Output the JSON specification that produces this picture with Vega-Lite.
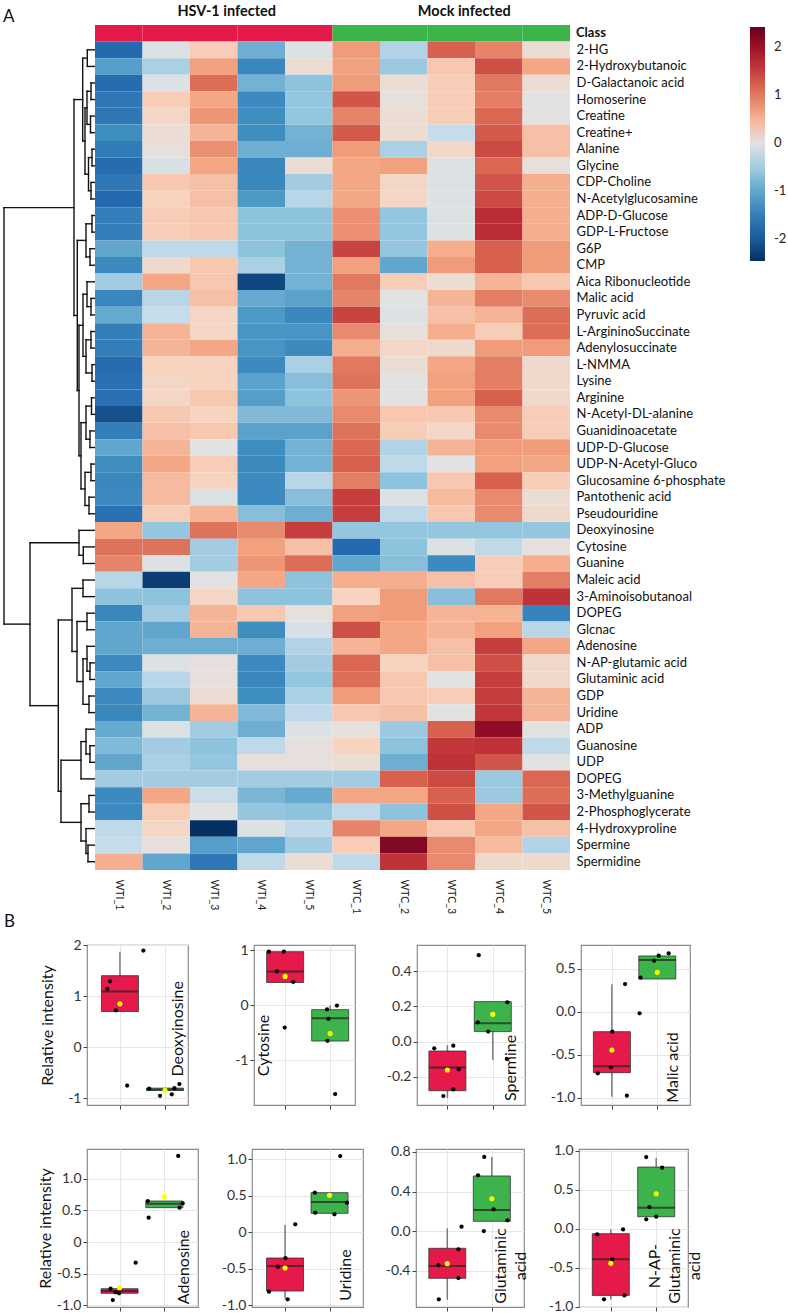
{
"$schema":"https://vega.github.io/schema/vega-lite/v6.json",
"padding":{"left":3,"top":3,"right":3,"bottom":0},
"background":"white",
"config":{"font":"Lato","view":{"stroke":null}},
"datasets":{
"cls":[{"r":"Class","c":"WTI_1","k":"HSV"},{"r":"Class","c":"WTI_2","k":"HSV"},{"r":"Class","c":"WTI_3","k":"HSV"},{"r":"Class","c":"WTI_4","k":"HSV"},{"r":"Class","c":"WTI_5","k":"HSV"},{"r":"Class","c":"WTC_1","k":"Mock"},{"r":"Class","c":"WTC_2","k":"Mock"},{"r":"Class","c":"WTC_3","k":"Mock"},{"r":"Class","c":"WTC_4","k":"Mock"},{"r":"Class","c":"WTC_5","k":"Mock"}],
"heat":[
{"r":"2-HG","c":"WTI_1","v":-1.8},{"r":"2-HG","c":"WTI_2","v":-0.05},{"r":"2-HG","c":"WTI_3","v":0.3},{"r":"2-HG","c":"WTI_4","v":-0.9},{"r":"2-HG","c":"WTI_5","v":-0.05},{"r":"2-HG","c":"WTC_1","v":0.7},{"r":"2-HG","c":"WTC_2","v":-0.4},{"r":"2-HG","c":"WTC_3","v":1.2},{"r":"2-HG","c":"WTC_4","v":0.9},{"r":"2-HG","c":"WTC_5","v":0.1},
{"r":"2-Hydroxybutanoic","c":"WTI_1","v":-1.1},{"r":"2-Hydroxybutanoic","c":"WTI_2","v":-0.45},{"r":"2-Hydroxybutanoic","c":"WTI_3","v":0.65},{"r":"2-Hydroxybutanoic","c":"WTI_4","v":-1.4},{"r":"2-Hydroxybutanoic","c":"WTI_5","v":0.1},{"r":"2-Hydroxybutanoic","c":"WTC_1","v":0.65},{"r":"2-Hydroxybutanoic","c":"WTC_2","v":-0.55},{"r":"2-Hydroxybutanoic","c":"WTC_3","v":0.35},{"r":"2-Hydroxybutanoic","c":"WTC_4","v":1.35},{"r":"2-Hydroxybutanoic","c":"WTC_5","v":0.6},
{"r":"D-Galactanoic acid","c":"WTI_1","v":-1.75},{"r":"D-Galactanoic acid","c":"WTI_2","v":-0.05},{"r":"D-Galactanoic acid","c":"WTI_3","v":1.1},{"r":"D-Galactanoic acid","c":"WTI_4","v":-0.85},{"r":"D-Galactanoic acid","c":"WTI_5","v":-0.65},{"r":"D-Galactanoic acid","c":"WTC_1","v":0.7},{"r":"D-Galactanoic acid","c":"WTC_2","v":0.1},{"r":"D-Galactanoic acid","c":"WTC_3","v":0.3},{"r":"D-Galactanoic acid","c":"WTC_4","v":1.0},{"r":"D-Galactanoic acid","c":"WTC_5","v":0.1},
{"r":"Homoserine","c":"WTI_1","v":-1.6},{"r":"Homoserine","c":"WTI_2","v":0.3},{"r":"Homoserine","c":"WTI_3","v":0.6},{"r":"Homoserine","c":"WTI_4","v":-1.35},{"r":"Homoserine","c":"WTI_5","v":-0.6},{"r":"Homoserine","c":"WTC_1","v":1.3},{"r":"Homoserine","c":"WTC_2","v":0.05},{"r":"Homoserine","c":"WTC_3","v":0.3},{"r":"Homoserine","c":"WTC_4","v":0.95},{"r":"Homoserine","c":"WTC_5","v":0.0},
{"r":"Creatine","c":"WTI_1","v":-1.6},{"r":"Creatine","c":"WTI_2","v":0.2},{"r":"Creatine","c":"WTI_3","v":0.75},{"r":"Creatine","c":"WTI_4","v":-1.3},{"r":"Creatine","c":"WTI_5","v":-0.6},{"r":"Creatine","c":"WTC_1","v":0.9},{"r":"Creatine","c":"WTC_2","v":0.1},{"r":"Creatine","c":"WTC_3","v":0.3},{"r":"Creatine","c":"WTC_4","v":1.15},{"r":"Creatine","c":"WTC_5","v":0.0},
{"r":"Creatine+","c":"WTI_1","v":-1.3},{"r":"Creatine+","c":"WTI_2","v":0.1},{"r":"Creatine+","c":"WTI_3","v":0.5},{"r":"Creatine+","c":"WTI_4","v":-1.3},{"r":"Creatine+","c":"WTI_5","v":-0.85},{"r":"Creatine+","c":"WTC_1","v":1.25},{"r":"Creatine+","c":"WTC_2","v":0.1},{"r":"Creatine+","c":"WTC_3","v":-0.25},{"r":"Creatine+","c":"WTC_4","v":1.25},{"r":"Creatine+","c":"WTC_5","v":0.4},
{"r":"Alanine","c":"WTI_1","v":-1.55},{"r":"Alanine","c":"WTI_2","v":0.05},{"r":"Alanine","c":"WTI_3","v":0.8},{"r":"Alanine","c":"WTI_4","v":-0.9},{"r":"Alanine","c":"WTI_5","v":-0.9},{"r":"Alanine","c":"WTC_1","v":0.7},{"r":"Alanine","c":"WTC_2","v":-0.45},{"r":"Alanine","c":"WTC_3","v":0.2},{"r":"Alanine","c":"WTC_4","v":1.4},{"r":"Alanine","c":"WTC_5","v":0.4},
{"r":"Glycine","c":"WTI_1","v":-1.75},{"r":"Glycine","c":"WTI_2","v":-0.1},{"r":"Glycine","c":"WTI_3","v":0.6},{"r":"Glycine","c":"WTI_4","v":-1.4},{"r":"Glycine","c":"WTI_5","v":0.1},{"r":"Glycine","c":"WTC_1","v":0.6},{"r":"Glycine","c":"WTC_2","v":0.65},{"r":"Glycine","c":"WTC_3","v":-0.05},{"r":"Glycine","c":"WTC_4","v":1.15},{"r":"Glycine","c":"WTC_5","v":0.05},
{"r":"CDP-Choline","c":"WTI_1","v":-1.6},{"r":"CDP-Choline","c":"WTI_2","v":0.35},{"r":"CDP-Choline","c":"WTI_3","v":0.4},{"r":"CDP-Choline","c":"WTI_4","v":-1.4},{"r":"CDP-Choline","c":"WTI_5","v":-0.5},{"r":"CDP-Choline","c":"WTC_1","v":0.6},{"r":"CDP-Choline","c":"WTC_2","v":0.2},{"r":"CDP-Choline","c":"WTC_3","v":-0.05},{"r":"CDP-Choline","c":"WTC_4","v":1.3},{"r":"CDP-Choline","c":"WTC_5","v":0.55},
{"r":"N-Acetylglucosamine","c":"WTI_1","v":-1.8},{"r":"N-Acetylglucosamine","c":"WTI_2","v":0.25},{"r":"N-Acetylglucosamine","c":"WTI_3","v":0.4},{"r":"N-Acetylglucosamine","c":"WTI_4","v":-1.15},{"r":"N-Acetylglucosamine","c":"WTI_5","v":-0.35},{"r":"N-Acetylglucosamine","c":"WTC_1","v":0.6},{"r":"N-Acetylglucosamine","c":"WTC_2","v":0.2},{"r":"N-Acetylglucosamine","c":"WTC_3","v":-0.05},{"r":"N-Acetylglucosamine","c":"WTC_4","v":1.4},{"r":"N-Acetylglucosamine","c":"WTC_5","v":0.55},
{"r":"ADP-D-Glucose","c":"WTI_1","v":-1.5},{"r":"ADP-D-Glucose","c":"WTI_2","v":0.3},{"r":"ADP-D-Glucose","c":"WTI_3","v":0.35},{"r":"ADP-D-Glucose","c":"WTI_4","v":-0.65},{"r":"ADP-D-Glucose","c":"WTI_5","v":-0.65},{"r":"ADP-D-Glucose","c":"WTC_1","v":0.8},{"r":"ADP-D-Glucose","c":"WTC_2","v":-0.6},{"r":"ADP-D-Glucose","c":"WTC_3","v":-0.05},{"r":"ADP-D-Glucose","c":"WTC_4","v":1.65},{"r":"ADP-D-Glucose","c":"WTC_5","v":0.55},
{"r":"GDP-L-Fructose","c":"WTI_1","v":-1.5},{"r":"GDP-L-Fructose","c":"WTI_2","v":0.3},{"r":"GDP-L-Fructose","c":"WTI_3","v":0.35},{"r":"GDP-L-Fructose","c":"WTI_4","v":-0.65},{"r":"GDP-L-Fructose","c":"WTI_5","v":-0.65},{"r":"GDP-L-Fructose","c":"WTC_1","v":0.8},{"r":"GDP-L-Fructose","c":"WTC_2","v":-0.6},{"r":"GDP-L-Fructose","c":"WTC_3","v":-0.05},{"r":"GDP-L-Fructose","c":"WTC_4","v":1.65},{"r":"GDP-L-Fructose","c":"WTC_5","v":0.55},
{"r":"G6P","c":"WTI_1","v":-1.0},{"r":"G6P","c":"WTI_2","v":-0.3},{"r":"G6P","c":"WTI_3","v":-0.3},{"r":"G6P","c":"WTI_4","v":-0.65},{"r":"G6P","c":"WTI_5","v":-0.85},{"r":"G6P","c":"WTC_1","v":1.45},{"r":"G6P","c":"WTC_2","v":-0.6},{"r":"G6P","c":"WTC_3","v":0.55},{"r":"G6P","c":"WTC_4","v":1.2},{"r":"G6P","c":"WTC_5","v":0.7},
{"r":"CMP","c":"WTI_1","v":-1.35},{"r":"CMP","c":"WTI_2","v":0.15},{"r":"CMP","c":"WTI_3","v":0.35},{"r":"CMP","c":"WTI_4","v":-0.45},{"r":"CMP","c":"WTI_5","v":-0.85},{"r":"CMP","c":"WTC_1","v":0.65},{"r":"CMP","c":"WTC_2","v":-1.0},{"r":"CMP","c":"WTC_3","v":0.7},{"r":"CMP","c":"WTC_4","v":1.2},{"r":"CMP","c":"WTC_5","v":0.7},
{"r":"Aica Ribonucleotide","c":"WTI_1","v":-0.5},{"r":"Aica Ribonucleotide","c":"WTI_2","v":0.6},{"r":"Aica Ribonucleotide","c":"WTI_3","v":0.35},{"r":"Aica Ribonucleotide","c":"WTI_4","v":-2.2},{"r":"Aica Ribonucleotide","c":"WTI_5","v":-0.85},{"r":"Aica Ribonucleotide","c":"WTC_1","v":1.0},{"r":"Aica Ribonucleotide","c":"WTC_2","v":0.3},{"r":"Aica Ribonucleotide","c":"WTC_3","v":0.1},{"r":"Aica Ribonucleotide","c":"WTC_4","v":0.5},{"r":"Aica Ribonucleotide","c":"WTC_5","v":0.35},
{"r":"Malic acid","c":"WTI_1","v":-1.4},{"r":"Malic acid","c":"WTI_2","v":-0.35},{"r":"Malic acid","c":"WTI_3","v":0.4},{"r":"Malic acid","c":"WTI_4","v":-0.95},{"r":"Malic acid","c":"WTI_5","v":-1.05},{"r":"Malic acid","c":"WTC_1","v":0.9},{"r":"Malic acid","c":"WTC_2","v":0.0},{"r":"Malic acid","c":"WTC_3","v":0.5},{"r":"Malic acid","c":"WTC_4","v":0.95},{"r":"Malic acid","c":"WTC_5","v":0.85},
{"r":"Pyruvic acid","c":"WTI_1","v":-0.95},{"r":"Pyruvic acid","c":"WTI_2","v":-0.25},{"r":"Pyruvic acid","c":"WTI_3","v":0.2},{"r":"Pyruvic acid","c":"WTI_4","v":-1.15},{"r":"Pyruvic acid","c":"WTI_5","v":-1.4},{"r":"Pyruvic acid","c":"WTC_1","v":1.45},{"r":"Pyruvic acid","c":"WTC_2","v":-0.05},{"r":"Pyruvic acid","c":"WTC_3","v":0.4},{"r":"Pyruvic acid","c":"WTC_4","v":0.5},{"r":"Pyruvic acid","c":"WTC_5","v":1.1},
{"r":"L-ArgininoSuccinate","c":"WTI_1","v":-1.5},{"r":"L-ArgininoSuccinate","c":"WTI_2","v":0.5},{"r":"L-ArgininoSuccinate","c":"WTI_3","v":0.2},{"r":"L-ArgininoSuccinate","c":"WTI_4","v":-1.2},{"r":"L-ArgininoSuccinate","c":"WTI_5","v":-1.2},{"r":"L-ArgininoSuccinate","c":"WTC_1","v":0.85},{"r":"L-ArgininoSuccinate","c":"WTC_2","v":0.05},{"r":"L-ArgininoSuccinate","c":"WTC_3","v":0.55},{"r":"L-ArgininoSuccinate","c":"WTC_4","v":0.3},{"r":"L-ArgininoSuccinate","c":"WTC_5","v":1.1},
{"r":"Adenylosuccinate","c":"WTI_1","v":-1.5},{"r":"Adenylosuccinate","c":"WTI_2","v":0.5},{"r":"Adenylosuccinate","c":"WTI_3","v":0.6},{"r":"Adenylosuccinate","c":"WTI_4","v":-1.2},{"r":"Adenylosuccinate","c":"WTI_5","v":-1.35},{"r":"Adenylosuccinate","c":"WTC_1","v":0.55},{"r":"Adenylosuccinate","c":"WTC_2","v":0.2},{"r":"Adenylosuccinate","c":"WTC_3","v":0.15},{"r":"Adenylosuccinate","c":"WTC_4","v":0.7},{"r":"Adenylosuccinate","c":"WTC_5","v":0.7},
{"r":"L-NMMA","c":"WTI_1","v":-1.75},{"r":"L-NMMA","c":"WTI_2","v":0.25},{"r":"L-NMMA","c":"WTI_3","v":0.25},{"r":"L-NMMA","c":"WTI_4","v":-1.35},{"r":"L-NMMA","c":"WTI_5","v":-0.45},{"r":"L-NMMA","c":"WTC_1","v":1.0},{"r":"L-NMMA","c":"WTC_2","v":0.1},{"r":"L-NMMA","c":"WTC_3","v":0.6},{"r":"L-NMMA","c":"WTC_4","v":0.95},{"r":"L-NMMA","c":"WTC_5","v":0.15},
{"r":"Lysine","c":"WTI_1","v":-1.7},{"r":"Lysine","c":"WTI_2","v":0.2},{"r":"Lysine","c":"WTI_3","v":0.25},{"r":"Lysine","c":"WTI_4","v":-1.05},{"r":"Lysine","c":"WTI_5","v":-0.7},{"r":"Lysine","c":"WTC_1","v":1.05},{"r":"Lysine","c":"WTC_2","v":0.0},{"r":"Lysine","c":"WTC_3","v":0.65},{"r":"Lysine","c":"WTC_4","v":0.95},{"r":"Lysine","c":"WTC_5","v":0.15},
{"r":"Arginine","c":"WTI_1","v":-1.7},{"r":"Arginine","c":"WTI_2","v":0.2},{"r":"Arginine","c":"WTI_3","v":0.35},{"r":"Arginine","c":"WTI_4","v":-1.1},{"r":"Arginine","c":"WTI_5","v":-0.65},{"r":"Arginine","c":"WTC_1","v":0.75},{"r":"Arginine","c":"WTC_2","v":0.0},{"r":"Arginine","c":"WTC_3","v":0.65},{"r":"Arginine","c":"WTC_4","v":1.2},{"r":"Arginine","c":"WTC_5","v":0.15},
{"r":"N-Acetyl-DL-alanine","c":"WTI_1","v":-2.1},{"r":"N-Acetyl-DL-alanine","c":"WTI_2","v":0.35},{"r":"N-Acetyl-DL-alanine","c":"WTI_3","v":0.25},{"r":"N-Acetyl-DL-alanine","c":"WTI_4","v":-0.75},{"r":"N-Acetyl-DL-alanine","c":"WTI_5","v":-0.75},{"r":"N-Acetyl-DL-alanine","c":"WTC_1","v":0.85},{"r":"N-Acetyl-DL-alanine","c":"WTC_2","v":0.35},{"r":"N-Acetyl-DL-alanine","c":"WTC_3","v":0.35},{"r":"N-Acetyl-DL-alanine","c":"WTC_4","v":0.85},{"r":"N-Acetyl-DL-alanine","c":"WTC_5","v":0.3},
{"r":"Guanidinoacetate","c":"WTI_1","v":-1.5},{"r":"Guanidinoacetate","c":"WTI_2","v":0.4},{"r":"Guanidinoacetate","c":"WTI_3","v":0.35},{"r":"Guanidinoacetate","c":"WTI_4","v":-1.05},{"r":"Guanidinoacetate","c":"WTI_5","v":-1.05},{"r":"Guanidinoacetate","c":"WTC_1","v":1.05},{"r":"Guanidinoacetate","c":"WTC_2","v":0.3},{"r":"Guanidinoacetate","c":"WTC_3","v":0.2},{"r":"Guanidinoacetate","c":"WTC_4","v":0.85},{"r":"Guanidinoacetate","c":"WTC_5","v":0.3},
{"r":"UDP-D-Glucose","c":"WTI_1","v":-1.0},{"r":"UDP-D-Glucose","c":"WTI_2","v":0.5},{"r":"UDP-D-Glucose","c":"WTI_3","v":0.0},{"r":"UDP-D-Glucose","c":"WTI_4","v":-1.3},{"r":"UDP-D-Glucose","c":"WTI_5","v":-0.85},{"r":"UDP-D-Glucose","c":"WTC_1","v":1.15},{"r":"UDP-D-Glucose","c":"WTC_2","v":-0.4},{"r":"UDP-D-Glucose","c":"WTC_3","v":0.5},{"r":"UDP-D-Glucose","c":"WTC_4","v":0.7},{"r":"UDP-D-Glucose","c":"WTC_5","v":0.7},
{"r":"UDP-N-Acetyl-Gluco","c":"WTI_1","v":-1.3},{"r":"UDP-N-Acetyl-Gluco","c":"WTI_2","v":0.6},{"r":"UDP-N-Acetyl-Gluco","c":"WTI_3","v":0.3},{"r":"UDP-N-Acetyl-Gluco","c":"WTI_4","v":-1.35},{"r":"UDP-N-Acetyl-Gluco","c":"WTI_5","v":-0.85},{"r":"UDP-N-Acetyl-Gluco","c":"WTC_1","v":1.2},{"r":"UDP-N-Acetyl-Gluco","c":"WTC_2","v":-0.3},{"r":"UDP-N-Acetyl-Gluco","c":"WTC_3","v":0.0},{"r":"UDP-N-Acetyl-Gluco","c":"WTC_4","v":0.65},{"r":"UDP-N-Acetyl-Gluco","c":"WTC_5","v":0.6},
{"r":"Glucosamine 6-phosphate","c":"WTI_1","v":-1.4},{"r":"Glucosamine 6-phosphate","c":"WTI_2","v":0.45},{"r":"Glucosamine 6-phosphate","c":"WTI_3","v":0.25},{"r":"Glucosamine 6-phosphate","c":"WTI_4","v":-1.35},{"r":"Glucosamine 6-phosphate","c":"WTI_5","v":-0.35},{"r":"Glucosamine 6-phosphate","c":"WTC_1","v":0.95},{"r":"Glucosamine 6-phosphate","c":"WTC_2","v":-0.65},{"r":"Glucosamine 6-phosphate","c":"WTC_3","v":0.35},{"r":"Glucosamine 6-phosphate","c":"WTC_4","v":1.2},{"r":"Glucosamine 6-phosphate","c":"WTC_5","v":0.3},
{"r":"Pantothenic acid","c":"WTI_1","v":-1.35},{"r":"Pantothenic acid","c":"WTI_2","v":0.45},{"r":"Pantothenic acid","c":"WTI_3","v":-0.05},{"r":"Pantothenic acid","c":"WTI_4","v":-1.35},{"r":"Pantothenic acid","c":"WTI_5","v":-0.7},{"r":"Pantothenic acid","c":"WTC_1","v":1.5},{"r":"Pantothenic acid","c":"WTC_2","v":-0.05},{"r":"Pantothenic acid","c":"WTC_3","v":0.45},{"r":"Pantothenic acid","c":"WTC_4","v":0.85},{"r":"Pantothenic acid","c":"WTC_5","v":0.1},
{"r":"Pseudouridine","c":"WTI_1","v":-1.7},{"r":"Pseudouridine","c":"WTI_2","v":0.3},{"r":"Pseudouridine","c":"WTI_3","v":0.5},{"r":"Pseudouridine","c":"WTI_4","v":-0.7},{"r":"Pseudouridine","c":"WTI_5","v":-0.9},{"r":"Pseudouridine","c":"WTC_1","v":1.5},{"r":"Pseudouridine","c":"WTC_2","v":-0.3},{"r":"Pseudouridine","c":"WTC_3","v":0.35},{"r":"Pseudouridine","c":"WTC_4","v":0.85},{"r":"Pseudouridine","c":"WTC_5","v":0.15},
{"r":"Deoxyinosine","c":"WTI_1","v":0.6},{"r":"Deoxyinosine","c":"WTI_2","v":-0.6},{"r":"Deoxyinosine","c":"WTI_3","v":1.05},{"r":"Deoxyinosine","c":"WTI_4","v":0.85},{"r":"Deoxyinosine","c":"WTI_5","v":1.5},{"r":"Deoxyinosine","c":"WTC_1","v":-0.6},{"r":"Deoxyinosine","c":"WTC_2","v":-0.6},{"r":"Deoxyinosine","c":"WTC_3","v":-0.6},{"r":"Deoxyinosine","c":"WTC_4","v":-0.6},{"r":"Deoxyinosine","c":"WTC_5","v":-0.6},
{"r":"Cytosine","c":"WTI_1","v":1.05},{"r":"Cytosine","c":"WTI_2","v":1.05},{"r":"Cytosine","c":"WTI_3","v":-0.5},{"r":"Cytosine","c":"WTI_4","v":0.65},{"r":"Cytosine","c":"WTI_5","v":0.4},{"r":"Cytosine","c":"WTC_1","v":-1.8},{"r":"Cytosine","c":"WTC_2","v":-0.65},{"r":"Cytosine","c":"WTC_3","v":-0.05},{"r":"Cytosine","c":"WTC_4","v":-0.3},{"r":"Cytosine","c":"WTC_5","v":0.05},
{"r":"Guanine","c":"WTI_1","v":0.9},{"r":"Guanine","c":"WTI_2","v":-0.05},{"r":"Guanine","c":"WTI_3","v":-0.5},{"r":"Guanine","c":"WTI_4","v":0.75},{"r":"Guanine","c":"WTI_5","v":1.1},{"r":"Guanine","c":"WTC_1","v":-1.0},{"r":"Guanine","c":"WTC_2","v":-0.7},{"r":"Guanine","c":"WTC_3","v":-1.35},{"r":"Guanine","c":"WTC_4","v":0.3},{"r":"Guanine","c":"WTC_5","v":0.55},
{"r":"Maleic acid","c":"WTI_1","v":-0.35},{"r":"Maleic acid","c":"WTI_2","v":-2.3},{"r":"Maleic acid","c":"WTI_3","v":0.0},{"r":"Maleic acid","c":"WTI_4","v":0.6},{"r":"Maleic acid","c":"WTI_5","v":-0.65},{"r":"Maleic acid","c":"WTC_1","v":0.55},{"r":"Maleic acid","c":"WTC_2","v":0.55},{"r":"Maleic acid","c":"WTC_3","v":0.4},{"r":"Maleic acid","c":"WTC_4","v":0.3},{"r":"Maleic acid","c":"WTC_5","v":0.95},
{"r":"3-Aminoisobutanoal","c":"WTI_1","v":-0.65},{"r":"3-Aminoisobutanoal","c":"WTI_2","v":-0.65},{"r":"3-Aminoisobutanoal","c":"WTI_3","v":0.2},{"r":"3-Aminoisobutanoal","c":"WTI_4","v":-0.65},{"r":"3-Aminoisobutanoal","c":"WTI_5","v":-0.65},{"r":"3-Aminoisobutanoal","c":"WTC_1","v":0.25},{"r":"3-Aminoisobutanoal","c":"WTC_2","v":0.7},{"r":"3-Aminoisobutanoal","c":"WTC_3","v":-0.7},{"r":"3-Aminoisobutanoal","c":"WTC_4","v":1.0},{"r":"3-Aminoisobutanoal","c":"WTC_5","v":1.6},
{"r":"DOPEG","c":"WTI_1","v":-1.4},{"r":"DOPEG","c":"WTI_2","v":-0.5},{"r":"DOPEG","c":"WTI_3","v":0.5},{"r":"DOPEG","c":"WTI_4","v":0.35},{"r":"DOPEG","c":"WTI_5","v":0.05},{"r":"DOPEG","c":"WTC_1","v":0.65},{"r":"DOPEG","c":"WTC_2","v":0.7},{"r":"DOPEG","c":"WTC_3","v":0.5},{"r":"DOPEG","c":"WTC_4","v":0.5},{"r":"DOPEG","c":"WTC_5","v":-1.45},
{"r":"Glcnac","c":"WTI_1","v":-1.0},{"r":"Glcnac","c":"WTI_2","v":-1.0},{"r":"Glcnac","c":"WTI_3","v":0.5},{"r":"Glcnac","c":"WTI_4","v":-1.3},{"r":"Glcnac","c":"WTI_5","v":-0.1},{"r":"Glcnac","c":"WTC_1","v":1.35},{"r":"Glcnac","c":"WTC_2","v":0.6},{"r":"Glcnac","c":"WTC_3","v":0.5},{"r":"Glcnac","c":"WTC_4","v":0.65},{"r":"Glcnac","c":"WTC_5","v":-0.35},
{"r":"Adenosine","c":"WTI_1","v":-1.0},{"r":"Adenosine","c":"WTI_2","v":-0.9},{"r":"Adenosine","c":"WTI_3","v":-0.9},{"r":"Adenosine","c":"WTI_4","v":-0.9},{"r":"Adenosine","c":"WTI_5","v":-0.4},{"r":"Adenosine","c":"WTC_1","v":0.5},{"r":"Adenosine","c":"WTC_2","v":0.6},{"r":"Adenosine","c":"WTC_3","v":0.4},{"r":"Adenosine","c":"WTC_4","v":1.5},{"r":"Adenosine","c":"WTC_5","v":0.6},
{"r":"N-AP-glutamic acid","c":"WTI_1","v":-1.35},{"r":"N-AP-glutamic acid","c":"WTI_2","v":-0.05},{"r":"N-AP-glutamic acid","c":"WTI_3","v":0.05},{"r":"N-AP-glutamic acid","c":"WTI_4","v":-1.35},{"r":"N-AP-glutamic acid","c":"WTI_5","v":-0.5},{"r":"N-AP-glutamic acid","c":"WTC_1","v":1.15},{"r":"N-AP-glutamic acid","c":"WTC_2","v":0.25},{"r":"N-AP-glutamic acid","c":"WTC_3","v":0.4},{"r":"N-AP-glutamic acid","c":"WTC_4","v":1.35},{"r":"N-AP-glutamic acid","c":"WTC_5","v":0.15},
{"r":"Glutaminic acid","c":"WTI_1","v":-1.0},{"r":"Glutaminic acid","c":"WTI_2","v":-0.35},{"r":"Glutaminic acid","c":"WTI_3","v":0.05},{"r":"Glutaminic acid","c":"WTI_4","v":-1.4},{"r":"Glutaminic acid","c":"WTI_5","v":-0.6},{"r":"Glutaminic acid","c":"WTC_1","v":1.1},{"r":"Glutaminic acid","c":"WTC_2","v":0.35},{"r":"Glutaminic acid","c":"WTC_3","v":0.0},{"r":"Glutaminic acid","c":"WTC_4","v":1.5},{"r":"Glutaminic acid","c":"WTC_5","v":0.15},
{"r":"GDP","c":"WTI_1","v":-1.35},{"r":"GDP","c":"WTI_2","v":-0.55},{"r":"GDP","c":"WTI_3","v":0.1},{"r":"GDP","c":"WTI_4","v":-1.3},{"r":"GDP","c":"WTI_5","v":-0.45},{"r":"GDP","c":"WTC_1","v":0.7},{"r":"GDP","c":"WTC_2","v":0.35},{"r":"GDP","c":"WTC_3","v":0.3},{"r":"GDP","c":"WTC_4","v":1.5},{"r":"GDP","c":"WTC_5","v":0.5},
{"r":"Uridine","c":"WTI_1","v":-1.4},{"r":"Uridine","c":"WTI_2","v":-0.85},{"r":"Uridine","c":"WTI_3","v":0.5},{"r":"Uridine","c":"WTI_4","v":-0.75},{"r":"Uridine","c":"WTI_5","v":-0.3},{"r":"Uridine","c":"WTC_1","v":0.35},{"r":"Uridine","c":"WTC_2","v":0.4},{"r":"Uridine","c":"WTC_3","v":0.0},{"r":"Uridine","c":"WTC_4","v":1.55},{"r":"Uridine","c":"WTC_5","v":0.5},
{"r":"ADP","c":"WTI_1","v":-0.95},{"r":"ADP","c":"WTI_2","v":-0.05},{"r":"ADP","c":"WTI_3","v":-0.5},{"r":"ADP","c":"WTI_4","v":-0.9},{"r":"ADP","c":"WTI_5","v":-0.05},{"r":"ADP","c":"WTC_1","v":0.05},{"r":"ADP","c":"WTC_2","v":-0.55},{"r":"ADP","c":"WTC_3","v":1.2},{"r":"ADP","c":"WTC_4","v":2.1},{"r":"ADP","c":"WTC_5","v":0.0},
{"r":"Guanosine","c":"WTI_1","v":-0.75},{"r":"Guanosine","c":"WTI_2","v":-0.5},{"r":"Guanosine","c":"WTI_3","v":-0.65},{"r":"Guanosine","c":"WTI_4","v":-0.3},{"r":"Guanosine","c":"WTI_5","v":0.05},{"r":"Guanosine","c":"WTC_1","v":0.25},{"r":"Guanosine","c":"WTC_2","v":-0.65},{"r":"Guanosine","c":"WTC_3","v":1.55},{"r":"Guanosine","c":"WTC_4","v":1.6},{"r":"Guanosine","c":"WTC_5","v":-0.3},
{"r":"UDP","c":"WTI_1","v":-1.0},{"r":"UDP","c":"WTI_2","v":-0.45},{"r":"UDP","c":"WTI_3","v":-0.6},{"r":"UDP","c":"WTI_4","v":0.05},{"r":"UDP","c":"WTI_5","v":0.05},{"r":"UDP","c":"WTC_1","v":0.1},{"r":"UDP","c":"WTC_2","v":-0.9},{"r":"UDP","c":"WTC_3","v":1.6},{"r":"UDP","c":"WTC_4","v":1.3},{"r":"UDP","c":"WTC_5","v":0.0},
{"r":"DOPEG ","c":"WTI_1","v":-0.5},{"r":"DOPEG ","c":"WTI_2","v":-0.5},{"r":"DOPEG ","c":"WTI_3","v":-0.5},{"r":"DOPEG ","c":"WTI_4","v":-0.5},{"r":"DOPEG ","c":"WTI_5","v":-0.5},{"r":"DOPEG ","c":"WTC_1","v":-0.5},{"r":"DOPEG ","c":"WTC_2","v":1.2},{"r":"DOPEG ","c":"WTC_3","v":1.4},{"r":"DOPEG ","c":"WTC_4","v":-0.55},{"r":"DOPEG ","c":"WTC_5","v":1.15},
{"r":"3-Methylguanine","c":"WTI_1","v":-1.35},{"r":"3-Methylguanine","c":"WTI_2","v":0.6},{"r":"3-Methylguanine","c":"WTI_3","v":-0.2},{"r":"3-Methylguanine","c":"WTI_4","v":-0.8},{"r":"3-Methylguanine","c":"WTI_5","v":-0.95},{"r":"3-Methylguanine","c":"WTC_1","v":0.6},{"r":"3-Methylguanine","c":"WTC_2","v":0.6},{"r":"3-Methylguanine","c":"WTC_3","v":1.2},{"r":"3-Methylguanine","c":"WTC_4","v":-0.55},{"r":"3-Methylguanine","c":"WTC_5","v":1.1},
{"r":"2-Phosphoglycerate","c":"WTI_1","v":-1.35},{"r":"2-Phosphoglycerate","c":"WTI_2","v":0.3},{"r":"2-Phosphoglycerate","c":"WTI_3","v":0.0},{"r":"2-Phosphoglycerate","c":"WTI_4","v":-0.6},{"r":"2-Phosphoglycerate","c":"WTI_5","v":-0.65},{"r":"2-Phosphoglycerate","c":"WTC_1","v":-0.3},{"r":"2-Phosphoglycerate","c":"WTC_2","v":-0.65},{"r":"2-Phosphoglycerate","c":"WTC_3","v":1.35},{"r":"2-Phosphoglycerate","c":"WTC_4","v":0.6},{"r":"2-Phosphoglycerate","c":"WTC_5","v":1.3},
{"r":"4-Hydroxyproline","c":"WTI_1","v":-0.3},{"r":"4-Hydroxyproline","c":"WTI_2","v":0.2},{"r":"4-Hydroxyproline","c":"WTI_3","v":-2.45},{"r":"4-Hydroxyproline","c":"WTI_4","v":-0.05},{"r":"4-Hydroxyproline","c":"WTI_5","v":-0.3},{"r":"4-Hydroxyproline","c":"WTC_1","v":0.9},{"r":"4-Hydroxyproline","c":"WTC_2","v":0.6},{"r":"4-Hydroxyproline","c":"WTC_3","v":0.35},{"r":"4-Hydroxyproline","c":"WTC_4","v":0.6},{"r":"4-Hydroxyproline","c":"WTC_5","v":0.4},
{"r":"Spermine","c":"WTI_1","v":-0.25},{"r":"Spermine","c":"WTI_2","v":0.05},{"r":"Spermine","c":"WTI_3","v":-1.1},{"r":"Spermine","c":"WTI_4","v":-1.0},{"r":"Spermine","c":"WTI_5","v":-0.5},{"r":"Spermine","c":"WTC_1","v":0.3},{"r":"Spermine","c":"WTC_2","v":2.2},{"r":"Spermine","c":"WTC_3","v":0.85},{"r":"Spermine","c":"WTC_4","v":0.45},{"r":"Spermine","c":"WTC_5","v":-0.4},
{"r":"Spermidine","c":"WTI_1","v":0.55},{"r":"Spermidine","c":"WTI_2","v":-1.0},{"r":"Spermidine","c":"WTI_3","v":-1.6},{"r":"Spermidine","c":"WTI_4","v":-0.3},{"r":"Spermidine","c":"WTI_5","v":0.1},{"r":"Spermidine","c":"WTC_1","v":-0.3},{"r":"Spermidine","c":"WTC_2","v":1.6},{"r":"Spermidine","c":"WTC_3","v":0.85},{"r":"Spermidine","c":"WTC_4","v":0.15},{"r":"Spermidine","c":"WTC_5","v":0.15}
],
"dendro":[
{"h":7.7,"y1":0,"h1":0,"y2":1,"h2":0},{"h":4,"y1":2,"h1":0,"y2":3,"h2":0},{"h":4.5,"y1":4,"h1":0,"y2":5,"h2":0},{"h":8,"y1":2.5,"h1":4,"y2":4.5,"h2":4.5},{"h":3,"y1":6,"h1":0,"y2":7,"h2":0},{"h":4,"y1":8,"h1":0,"y2":9,"h2":0},{"h":6.5,"y1":6.5,"h1":3,"y2":8.5,"h2":4},{"h":10,"y1":3.5,"h1":8,"y2":7.5,"h2":6.5},{"h":12.3,"y1":0.5,"h1":7.7,"y2":5.5,"h2":10},
{"h":3,"y1":10,"h1":0,"y2":11,"h2":0},{"h":5,"y1":12,"h1":0,"y2":13,"h2":0},{"h":9,"y1":10.5,"h1":3,"y2":12.5,"h2":5},{"h":4,"y1":15,"h1":0,"y2":16,"h2":0},{"h":8,"y1":14,"h1":0,"y2":15.5,"h2":4},{"h":4,"y1":17,"h1":0,"y2":18,"h2":0},{"h":3,"y1":19,"h1":0,"y2":20,"h2":0},{"h":9,"y1":17.5,"h1":4,"y2":19.5,"h2":3},{"h":12,"y1":14.75,"h1":8,"y2":18.5,"h2":9},
{"h":3.5,"y1":21,"h1":0,"y2":22,"h2":0},{"h":5,"y1":23,"h1":0,"y2":24,"h2":0},{"h":9,"y1":21.5,"h1":3.5,"y2":23.5,"h2":5},{"h":4,"y1":25,"h1":0,"y2":26,"h2":0},{"h":6,"y1":27,"h1":0,"y2":28,"h2":0},{"h":10,"y1":25.5,"h1":4,"y2":27.5,"h2":6},{"h":14,"y1":22.5,"h1":9,"y2":26.5,"h2":10},{"h":16,"y1":16.625,"h1":12,"y2":24.5,"h2":14},{"h":17.7,"y1":11.5,"h1":9,"y2":20.56,"h2":16},{"h":21,"y1":3.0,"h1":12.3,"y2":16.03,"h2":17.7},
{"h":11.7,"y1":30,"h1":0,"y2":31,"h2":0},{"h":16,"y1":29,"h1":0,"y2":30.5,"h2":11.7},{"h":12,"y1":32,"h1":0,"y2":33,"h2":0},{"h":8,"y1":34,"h1":0,"y2":35,"h2":0},{"h":5,"y1":37,"h1":0,"y2":38,"h2":0},{"h":8,"y1":36,"h1":0,"y2":37.5,"h2":5},{"h":6,"y1":39,"h1":0,"y2":40,"h2":0},{"h":12,"y1":36.75,"h1":8,"y2":39.5,"h2":6},{"h":18,"y1":34.5,"h1":8,"y2":38.125,"h2":12},{"h":23,"y1":32.5,"h1":12,"y2":36.31,"h2":18},
{"h":5,"y1":42,"h1":0,"y2":43,"h2":0},{"h":9,"y1":41,"h1":0,"y2":42.5,"h2":5},{"h":14,"y1":41.75,"h1":9,"y2":44,"h2":0},{"h":6,"y1":45,"h1":0,"y2":46,"h2":0},{"h":7,"y1":48,"h1":0,"y2":49,"h2":0},{"h":9,"y1":47,"h1":0,"y2":48.5,"h2":7},{"h":14,"y1":45.5,"h1":6,"y2":47.75,"h2":9},{"h":34,"y1":42.875,"h1":14,"y2":46.625,"h2":14},{"h":36.7,"y1":34.41,"h1":23,"y2":44.75,"h2":34},{"h":65,"y1":29.75,"h1":16,"y2":39.58,"h2":36.7},{"h":91,"y1":9.52,"h1":21,"y2":34.66,"h2":65}
],
"box":[
{"p":1,"g":1,"k":"HSV","lo":0.70,"q1":0.70,"med":1.09,"q3":1.40,"hi":1.87,"mean":0.85},
{"p":1,"g":2,"k":"Mock","lo":-0.845,"q1":-0.845,"med":-0.825,"q3":-0.80,"hi":-0.80,"mean":-0.84},
{"p":2,"g":1,"k":"HSV","lo":0.41,"q1":0.41,"med":0.61,"q3":0.97,"hi":0.97,"mean":0.52},
{"p":2,"g":2,"k":"Mock","lo":-0.655,"q1":-0.655,"med":-0.24,"q3":-0.085,"hi":-0.01,"mean":-0.52},
{"p":3,"g":1,"k":"HSV","lo":-0.32,"q1":-0.278,"med":-0.147,"q3":-0.053,"hi":-0.02,"mean":-0.161},
{"p":3,"g":2,"k":"Mock","lo":-0.104,"q1":0.057,"med":0.104,"q3":0.227,"hi":0.227,"mean":0.155},
{"p":4,"g":1,"k":"HSV","lo":-0.986,"q1":-0.707,"med":-0.634,"q3":-0.232,"hi":0.317,"mean":-0.445},
{"p":4,"g":2,"k":"Mock","lo":0.379,"q1":0.379,"med":0.599,"q3":0.646,"hi":0.646,"mean":0.456},
{"p":5,"g":1,"k":"HSV","lo":-0.81,"q1":-0.81,"med":-0.774,"q3":-0.737,"hi":-0.737,"mean":-0.721},
{"p":5,"g":2,"k":"Mock","lo":0.542,"q1":0.542,"med":0.605,"q3":0.647,"hi":0.647,"mean":0.716},
{"p":6,"g":1,"k":"HSV","lo":-0.913,"q1":-0.808,"med":-0.466,"q3":-0.356,"hi":0.096,"mean":-0.493},
{"p":6,"g":2,"k":"Mock","lo":0.256,"q1":0.256,"med":0.411,"q3":0.539,"hi":0.539,"mean":0.502},
{"p":7,"g":1,"k":"HSV","lo":-0.69,"q1":-0.474,"med":-0.35,"q3":-0.171,"hi":0.03,"mean":-0.326},
{"p":7,"g":2,"k":"Mock","lo":0.101,"q1":0.101,"med":0.215,"q3":0.558,"hi":0.75,"mean":0.329},
{"p":8,"g":1,"k":"HSV","lo":-0.91,"q1":-0.857,"med":-0.394,"q3":-0.064,"hi":-0.009,"mean":-0.445},
{"p":8,"g":2,"k":"Mock","lo":0.154,"q1":0.154,"med":0.27,"q3":0.792,"hi":0.912,"mean":0.45}
],
"pts":[
{"p":1,"jx":1.52,"v":1.89},{"p":1,"jx":0.78,"v":1.29},{"p":1,"jx":0.72,"v":1.14},{"p":1,"jx":0.91,"v":0.72},{"p":1,"jx":1.16,"v":-0.75},{"p":1,"jx":1.65,"v":-0.81},{"p":1,"jx":1.89,"v":-0.95},{"p":1,"jx":2.15,"v":-0.92},{"p":1,"jx":2.21,"v":-0.80},{"p":1,"jx":2.32,"v":-0.72},
{"p":2,"jx":0.64,"v":0.97},{"p":2,"jx":0.97,"v":0.97},{"p":2,"jx":0.82,"v":0.61},{"p":2,"jx":1.18,"v":0.42},{"p":2,"jx":0.99,"v":-0.41},{"p":2,"jx":1.93,"v":-0.08},{"p":2,"jx":2.15,"v":-0.01},{"p":2,"jx":1.96,"v":-0.25},{"p":2,"jx":1.94,"v":-0.65},{"p":2,"jx":2.11,"v":-1.62},
{"p":3,"jx":0.71,"v":-0.038},{"p":3,"jx":1.13,"v":-0.023},{"p":3,"jx":1.25,"v":-0.157},{"p":3,"jx":1.13,"v":-0.27},{"p":3,"jx":0.91,"v":-0.308},{"p":3,"jx":1.69,"v":0.49},{"p":3,"jx":2.32,"v":0.223},{"p":3,"jx":1.67,"v":0.11},{"p":3,"jx":1.90,"v":0.057},{"p":3,"jx":2.31,"v":-0.098},
{"p":4,"jx":0.69,"v":-0.715},{"p":4,"jx":0.98,"v":-0.645},{"p":4,"jx":1.01,"v":-0.232},{"p":4,"jx":1.29,"v":0.32},{"p":4,"jx":1.33,"v":-0.974},{"p":4,"jx":1.63,"v":0.394},{"p":4,"jx":1.61,"v":-0.019},{"p":4,"jx":1.93,"v":0.591},{"p":4,"jx":2.03,"v":0.649},{"p":4,"jx":2.25,"v":0.676},
{"p":5,"jx":0.80,"v":-0.737},{"p":5,"jx":0.85,"v":-0.916},{"p":5,"jx":0.91,"v":-0.795},{"p":5,"jx":0.99,"v":-0.81},{"p":5,"jx":1.36,"v":-0.326},{"p":5,"jx":1.63,"v":0.647},{"p":5,"jx":1.65,"v":0.384},{"p":5,"jx":2.31,"v":1.358},{"p":5,"jx":2.34,"v":0.542},{"p":5,"jx":2.41,"v":0.61},
{"p":6,"jx":0.64,"v":-0.817},{"p":6,"jx":0.84,"v":-0.475},{"p":6,"jx":1.01,"v":-0.356},{"p":6,"jx":1.23,"v":0.105},{"p":6,"jx":1.06,"v":-0.922},{"p":6,"jx":1.67,"v":0.539},{"p":6,"jx":1.68,"v":0.265},{"p":6,"jx":2.11,"v":0.242},{"p":6,"jx":2.24,"v":1.041},{"p":6,"jx":2.39,"v":0.402},
{"p":7,"jx":0.81,"v":-0.686},{"p":7,"jx":0.80,"v":-0.34},{"p":7,"jx":1.25,"v":-0.182},{"p":7,"jx":1.25,"v":-0.471},{"p":7,"jx":1.32,"v":0.047},{"p":7,"jx":1.83,"v":0.75},{"p":7,"jx":1.69,"v":0.565},{"p":7,"jx":2.04,"v":0.222},{"p":7,"jx":1.82,"v":0.003},{"p":7,"jx":2.35,"v":0.111},
{"p":8,"jx":0.70,"v":-0.073},{"p":8,"jx":1.27,"v":-0.009},{"p":8,"jx":1.03,"v":-0.394},{"p":8,"jx":0.85,"v":-0.908},{"p":8,"jx":1.30,"v":-0.857},{"p":8,"jx":1.78,"v":0.921},{"p":8,"jx":2.13,"v":0.784},{"p":8,"jx":1.85,"v":0.278},{"p":8,"jx":1.78,"v":0.12},{"p":8,"jx":2.0,"v":0.154}
],
"lab":[
{"p":1,"t":"Deoxyinosine","lx":2.30,"ly":0.36},
{"p":2,"t":"Cytosine","lx":0.54,"ly":-0.736},
{"p":3,"t":"Spermine","lx":2.40,"ly":-0.149},
{"p":4,"t":"Malic acid","lx":2.354,"ly":-0.647},
{"p":5,"t":"Adenosine","lx":2.434,"ly":-0.395},
{"p":6,"t":"Uridine","lx":2.373,"ly":-0.589},
{"p":7,"t":["Glutaminic","acid"],"lx":2.204,"ly":-0.35},
{"p":8,"t":["N-AP-","Glutaminic","acid"],"lx":1.974,"ly":-0.48}
]
},
"spacing":-1,
"vconcat":[
{"hconcat":[
 {"width":91,"height":845,
  "title":{"text":"A","anchor":"start","fontSize":17,"fontWeight":"normal","color":"#111","offset":2,"dy":3},
  "data":{"name":"dendro"},
  "layer":[
   {"mark":{"type":"rule","color":"#111","strokeWidth":1.4,"strokeCap":"square"},
    "encoding":{"x":{"field":"h","type":"quantitative","scale":{"domain":[0,91],"reverse":true,"nice":false,"zero":false},"axis":null},
     "y":{"field":"y1","type":"quantitative","scale":{"domain":[-1.5,49.5],"reverse":true,"nice":false,"zero":false},"axis":null},
     "y2":{"field":"y2"}}},
   {"mark":{"type":"rule","color":"#111","strokeWidth":1.4,"strokeCap":"square"},
    "encoding":{"x":{"field":"h","type":"quantitative","axis":null},"x2":{"field":"h1"},"y":{"field":"y1","type":"quantitative","axis":null}}},
   {"mark":{"type":"rule","color":"#111","strokeWidth":1.4,"strokeCap":"square"},
    "encoding":{"x":{"field":"h","type":"quantitative","axis":null},"x2":{"field":"h2"},"y":{"field":"y2","type":"quantitative","axis":null}}}
  ]},
 {"width":475,"height":845,
  "layer":[
   {"data":{"name":"cls"},"mark":{"type":"rect"},
    "encoding":{
     "x":{"field":"c","type":"nominal","scale":{"domain":["WTI_1","WTI_2","WTI_3","WTI_4","WTI_5","WTC_1","WTC_2","WTC_3","WTC_4","WTC_5"],"paddingInner":0,"paddingOuter":0},
      "axis":{"orient":"top","values":["WTI_3","WTC_3"],"labelExpr":"datum.value == 'WTI_3' ? 'HSV-1 infected' : 'Mock infected'","labelAngle":0,"labelFontWeight":"bold","labelFontSize":14.5,"labelColor":"#111","labelPadding":7,"labelOffset":13,"ticks":false,"tickSize":0,"domain":false,"title":null}},
     "y":{"field":"r","type":"nominal"},
     "fill":{"field":"k","type":"nominal","scale":{"domain":["HSV","Mock"],"range":["#e6194b","#3cb44b"]},"legend":null}}},
   {"data":{"values":[{"r":"Class","t":"Class"}]},"mark":{"type":"text","align":"left","baseline":"middle","dx":6,"fontSize":13,"fontWeight":"bold","color":"#111"},
    "encoding":{
     "x":{"datum":"WTC_5","type":"nominal","bandPosition":1,"axis":null},
     "y":{"field":"r","type":"nominal"},
     "text":{"field":"t"}}},
   {"data":{"name":"heat"},"mark":{"type":"rect"},
    "encoding":{
     "x":{"field":"c","type":"nominal","axis":{"orient":"bottom","labelAngle":90,"labelFontSize":10.5,"labelPadding":9,"labelColor":"#222","ticks":false,"tickSize":0,"domain":false,"title":null}},
     "y":{"field":"r","type":"nominal","scale":{"domain":["Class","2-HG","2-Hydroxybutanoic","D-Galactanoic acid","Homoserine","Creatine","Creatine+","Alanine","Glycine","CDP-Choline","N-Acetylglucosamine","ADP-D-Glucose","GDP-L-Fructose","G6P","CMP","Aica Ribonucleotide","Malic acid","Pyruvic acid","L-ArgininoSuccinate","Adenylosuccinate","L-NMMA","Lysine","Arginine","N-Acetyl-DL-alanine","Guanidinoacetate","UDP-D-Glucose","UDP-N-Acetyl-Gluco","Glucosamine 6-phosphate","Pantothenic acid","Pseudouridine","Deoxyinosine","Cytosine","Guanine","Maleic acid","3-Aminoisobutanoal","DOPEG","Glcnac","Adenosine","N-AP-glutamic acid","Glutaminic acid","GDP","Uridine","ADP","Guanosine","UDP","DOPEG ","3-Methylguanine","2-Phosphoglycerate","4-Hydroxyproline","Spermine","Spermidine"],"paddingInner":0,"paddingOuter":0},
      "axis":{"orient":"right","labelExpr":"datum.value == 'Class' ? '' : datum.label","labelFontSize":13,"labelPadding":6,"labelColor":"#111","labelLimit":250,"ticks":false,"tickSize":0,"domain":false,"grid":false,"title":null}},
     "color":{"field":"v","type":"quantitative",
      "scale":{"domain":[-2.46,-1.85,-1.23,-0.62,-0.25,0,0.25,0.62,1.21,1.82,2.42],"range":["#053061","#2166ac","#4393c3","#92c5de","#c6dcea","#e2e2e2","#f8d3bf","#f4a582","#d6604d","#b2182b","#67001f"],"interpolate":"rgb"},
      "legend":{"orient":"none","legendX":746,"legendY":2,"direction":"vertical","gradientLength":234,"gradientThickness":15,"gradientStrokeWidth":0,"title":null,"values":[2,1,0,-1,-2],"format":"d","labelExpr":"replace(datum.label, '−', '-')","labelFontSize":13,"labelColor":"#222","labelOffset":9}}}}
  ],
  "resolve":{"axis":{"x":"independent"}}}
],"spacing":0,"bounds":"flush"},
{"vconcat":[
 {"hconcat":[
  {"width":83,"height":10,"title":{"text":"B","anchor":"start","fontSize":17,"fontWeight":"normal","color":"#111","offset":14},"data":{"values":[{"a":1}]},"mark":{"type":"point","opacity":0}},
  {"width":101,"height":160,"view":{"stroke":"#8a8a8a","strokeWidth":1.2},
   "layer":[
    {"data":{"name":"box"},"transform":[{"filter":"datum.p == 1"}],"mark":{"type":"rule","color":"#7a7a7a","strokeWidth":1.5},
     "encoding":{"x":{"field":"g","type":"quantitative","scale":{"domain":[0.38,2.40],"nice":false,"zero":false},"axis":{"values":[1,2],"labels":false,"ticks":true,"tickSize":4,"tickColor":"#444","grid":true,"gridColor":"#e6e6e6","domain":false,"title":null}},
      "y":{"field":"lo","type":"quantitative","scale":{"domain":[-1.13,2.0],"nice":false,"zero":false},"axis":{"values":[-1,0,1,2],"tickCount":12,"labelExpr":"replace(format(datum.value, 'd'), '−', '-')","labelFontSize":14,"labelColor":"#333","labelPadding":2,"tickSize":4,"tickColor":"#444","grid":true,"gridColor":"#e6e6e6","domain":false,"labelFlush":false,"labelOverlap":false,"title":"Relative intensity","titleFontSize":16,"titleFontWeight":"normal","titleColor":"#111","titlePadding":12}},
      "y2":{"field":"hi"}}},
    {"data":{"name":"box"},"transform":[{"filter":"datum.p == 1"}],"mark":{"type":"bar","width":37,"stroke":"#333","strokeWidth":0.8},
     "encoding":{"x":{"field":"g","type":"quantitative"},"y":{"field":"q1","type":"quantitative"},"y2":{"field":"q3"},"fill":{"field":"k","type":"nominal","legend":null}}},
    {"data":{"name":"box"},"transform":[{"filter":"datum.p == 1"}],"mark":{"type":"tick","orient":"horizontal","size":37,"thickness":2,"color":"#222"},
     "encoding":{"x":{"field":"g","type":"quantitative"},"y":{"field":"med","type":"quantitative"}}},
    {"data":{"name":"pts"},"transform":[{"filter":"datum.p == 1"}],"mark":{"type":"circle","size":18,"color":"#000","opacity":1},
     "encoding":{"x":{"field":"jx","type":"quantitative"},"y":{"field":"v","type":"quantitative"}}},
    {"data":{"name":"box"},"transform":[{"filter":"datum.p == 1"}],"mark":{"type":"circle","size":26,"color":"#ffff00","opacity":1},
     "encoding":{"x":{"field":"g","type":"quantitative"},"y":{"field":"mean","type":"quantitative"}}},
    {"data":{"name":"lab"},"transform":[{"filter":"datum.p == 1"}],"mark":{"type":"text","angle":270,"align":"center","baseline":"middle","fontSize":16,"lineHeight":20,"color":"#111"},
     "encoding":{"x":{"field":"lx","type":"quantitative"},"y":{"field":"ly","type":"quantitative"},"text":{"field":"t"}}}
   ]},
  {"width":66,"height":10,"data":{"values":[{"a":1}]},"mark":{"type":"point","opacity":0}},
  {"width":101,"height":160,"view":{"stroke":"#8a8a8a","strokeWidth":1.2},
   "layer":[
    {"data":{"name":"box"},"transform":[{"filter":"datum.p == 2"}],"mark":{"type":"rule","color":"#7a7a7a","strokeWidth":1.5},
     "encoding":{"x":{"field":"g","type":"quantitative","scale":{"domain":[0.42,2.44],"nice":false,"zero":false},"axis":{"values":[1,2],"labels":false,"ticks":true,"tickSize":4,"tickColor":"#444","grid":true,"gridColor":"#e6e6e6","domain":false,"title":null}},
      "y":{"field":"lo","type":"quantitative","scale":{"domain":[-1.818,1.091],"nice":false,"zero":false},"axis":{"values":[-1,0,1],"tickCount":12,"labelExpr":"replace(format(datum.value, 'd'), '−', '-')","labelFontSize":14,"labelColor":"#333","labelPadding":2,"tickSize":4,"tickColor":"#444","grid":true,"gridColor":"#e6e6e6","domain":false,"labelFlush":false,"labelOverlap":false,"title":null}},
      "y2":{"field":"hi"}}},
    {"data":{"name":"box"},"transform":[{"filter":"datum.p == 2"}],"mark":{"type":"bar","width":37,"stroke":"#333","strokeWidth":0.8},
     "encoding":{"x":{"field":"g","type":"quantitative"},"y":{"field":"q1","type":"quantitative"},"y2":{"field":"q3"},"fill":{"field":"k","type":"nominal","legend":null}}},
    {"data":{"name":"box"},"transform":[{"filter":"datum.p == 2"}],"mark":{"type":"tick","orient":"horizontal","size":37,"thickness":2,"color":"#222"},
     "encoding":{"x":{"field":"g","type":"quantitative"},"y":{"field":"med","type":"quantitative"}}},
    {"data":{"name":"pts"},"transform":[{"filter":"datum.p == 2"}],"mark":{"type":"circle","size":18,"color":"#000","opacity":1},
     "encoding":{"x":{"field":"jx","type":"quantitative"},"y":{"field":"v","type":"quantitative"}}},
    {"data":{"name":"box"},"transform":[{"filter":"datum.p == 2"}],"mark":{"type":"circle","size":26,"color":"#ffff00","opacity":1},
     "encoding":{"x":{"field":"g","type":"quantitative"},"y":{"field":"mean","type":"quantitative"}}},
    {"data":{"name":"lab"},"transform":[{"filter":"datum.p == 2"}],"mark":{"type":"text","angle":270,"align":"center","baseline":"middle","fontSize":16,"lineHeight":20,"color":"#111"},
     "encoding":{"x":{"field":"lx","type":"quantitative"},"y":{"field":"ly","type":"quantitative"},"text":{"field":"t"}}}
   ]},
  {"width":62,"height":10,"data":{"values":[{"a":1}]},"mark":{"type":"point","opacity":0}},
  {"width":108,"height":160,"view":{"stroke":"#8a8a8a","strokeWidth":1.2},
   "layer":[
    {"data":{"name":"box"},"transform":[{"filter":"datum.p == 3"}],"mark":{"type":"rule","color":"#7a7a7a","strokeWidth":1.5},
     "encoding":{"x":{"field":"g","type":"quantitative","scale":{"domain":[0.44,2.60],"nice":false,"zero":false},"axis":{"values":[1,2],"labels":false,"ticks":true,"tickSize":4,"tickColor":"#444","grid":true,"gridColor":"#e6e6e6","domain":false,"title":null}},
      "y":{"field":"lo","type":"quantitative","scale":{"domain":[-0.359,0.548],"nice":false,"zero":false},"axis":{"values":[-0.2,0,0.2,0.4],"tickCount":12,"labelExpr":"replace(format(datum.value, '.1f'), '−', '-')","labelFontSize":14,"labelColor":"#333","labelPadding":2,"tickSize":4,"tickColor":"#444","grid":true,"gridColor":"#e6e6e6","domain":false,"labelFlush":false,"labelOverlap":false,"title":null}},
      "y2":{"field":"hi"}}},
    {"data":{"name":"box"},"transform":[{"filter":"datum.p == 3"}],"mark":{"type":"bar","width":37,"stroke":"#333","strokeWidth":0.8},
     "encoding":{"x":{"field":"g","type":"quantitative"},"y":{"field":"q1","type":"quantitative"},"y2":{"field":"q3"},"fill":{"field":"k","type":"nominal","legend":null}}},
    {"data":{"name":"box"},"transform":[{"filter":"datum.p == 3"}],"mark":{"type":"tick","orient":"horizontal","size":37,"thickness":2,"color":"#222"},
     "encoding":{"x":{"field":"g","type":"quantitative"},"y":{"field":"med","type":"quantitative"}}},
    {"data":{"name":"pts"},"transform":[{"filter":"datum.p == 3"}],"mark":{"type":"circle","size":18,"color":"#000","opacity":1},
     "encoding":{"x":{"field":"jx","type":"quantitative"},"y":{"field":"v","type":"quantitative"}}},
    {"data":{"name":"box"},"transform":[{"filter":"datum.p == 3"}],"mark":{"type":"circle","size":26,"color":"#ffff00","opacity":1},
     "encoding":{"x":{"field":"g","type":"quantitative"},"y":{"field":"mean","type":"quantitative"}}},
    {"data":{"name":"lab"},"transform":[{"filter":"datum.p == 3"}],"mark":{"type":"text","angle":270,"align":"center","baseline":"middle","fontSize":16,"lineHeight":20,"color":"#111"},
     "encoding":{"x":{"field":"lx","type":"quantitative"},"y":{"field":"ly","type":"quantitative"},"text":{"field":"t"}}}
   ]},
  {"width":56,"height":10,"data":{"values":[{"a":1}]},"mark":{"type":"point","opacity":0}},
  {"width":109,"height":160,"view":{"stroke":"#8a8a8a","strokeWidth":1.2},
   "layer":[
    {"data":{"name":"box"},"transform":[{"filter":"datum.p == 4"}],"mark":{"type":"rule","color":"#7a7a7a","strokeWidth":1.5},
     "encoding":{"x":{"field":"g","type":"quantitative","scale":{"domain":[0.43,2.61],"nice":false,"zero":false},"axis":{"values":[1,2],"labels":false,"ticks":true,"tickSize":4,"tickColor":"#444","grid":true,"gridColor":"#e6e6e6","domain":false,"title":null}},
      "y":{"field":"lo","type":"quantitative","scale":{"domain":[-1.082,0.773],"nice":false,"zero":false},"axis":{"values":[-1,-0.5,0,0.5],"tickCount":12,"labelExpr":"replace(format(datum.value, '.1f'), '−', '-')","labelFontSize":14,"labelColor":"#333","labelPadding":2,"tickSize":4,"tickColor":"#444","grid":true,"gridColor":"#e6e6e6","domain":false,"labelFlush":false,"labelOverlap":false,"title":null}},
      "y2":{"field":"hi"}}},
    {"data":{"name":"box"},"transform":[{"filter":"datum.p == 4"}],"mark":{"type":"bar","width":37,"stroke":"#333","strokeWidth":0.8},
     "encoding":{"x":{"field":"g","type":"quantitative"},"y":{"field":"q1","type":"quantitative"},"y2":{"field":"q3"},"fill":{"field":"k","type":"nominal","legend":null}}},
    {"data":{"name":"box"},"transform":[{"filter":"datum.p == 4"}],"mark":{"type":"tick","orient":"horizontal","size":37,"thickness":2,"color":"#222"},
     "encoding":{"x":{"field":"g","type":"quantitative"},"y":{"field":"med","type":"quantitative"}}},
    {"data":{"name":"pts"},"transform":[{"filter":"datum.p == 4"}],"mark":{"type":"circle","size":18,"color":"#000","opacity":1},
     "encoding":{"x":{"field":"jx","type":"quantitative"},"y":{"field":"v","type":"quantitative"}}},
    {"data":{"name":"box"},"transform":[{"filter":"datum.p == 4"}],"mark":{"type":"circle","size":26,"color":"#ffff00","opacity":1},
     "encoding":{"x":{"field":"g","type":"quantitative"},"y":{"field":"mean","type":"quantitative"}}},
    {"data":{"name":"lab"},"transform":[{"filter":"datum.p == 4"}],"mark":{"type":"text","angle":270,"align":"center","baseline":"middle","fontSize":16,"lineHeight":20,"color":"#111"},
     "encoding":{"x":{"field":"lx","type":"quantitative"},"y":{"field":"ly","type":"quantitative"},"text":{"field":"t"}}}
   ]}
 ],"spacing":0,"bounds":"flush"},
 {"hconcat":[
  {"width":83,"height":10,"data":{"values":[{"a":1}]},"mark":{"type":"point","opacity":0}},
  {"width":111,"height":158,"view":{"stroke":"#8a8a8a","strokeWidth":1.2},
   "layer":[
    {"data":{"name":"box"},"transform":[{"filter":"datum.p == 5"}],"mark":{"type":"rule","color":"#7a7a7a","strokeWidth":1.5},
     "encoding":{"x":{"field":"g","type":"quantitative","scale":{"domain":[0.385,2.64],"nice":false,"zero":false},"axis":{"values":[1,2],"labels":false,"ticks":true,"tickSize":4,"tickColor":"#444","grid":true,"gridColor":"#e6e6e6","domain":false,"title":null}},
      "y":{"field":"lo","type":"quantitative","scale":{"domain":[-1.026,1.468],"nice":false,"zero":false},"axis":{"values":[-1,-0.5,0,0.5,1],"tickCount":12,"labelExpr":"datum.value == 0 ? '0' : replace(format(datum.value, '.1f'), '−', '-')","labelFontSize":14,"labelColor":"#333","labelPadding":2,"tickSize":4,"tickColor":"#444","grid":true,"gridColor":"#e6e6e6","domain":false,"labelFlush":false,"labelOverlap":false,"title":"Relative intensity","titleFontSize":16,"titleFontWeight":"normal","titleColor":"#111","titlePadding":3}},
      "y2":{"field":"hi"}}},
    {"data":{"name":"box"},"transform":[{"filter":"datum.p == 5"}],"mark":{"type":"bar","width":37,"stroke":"#333","strokeWidth":0.8},
     "encoding":{"x":{"field":"g","type":"quantitative"},"y":{"field":"q1","type":"quantitative"},"y2":{"field":"q3"},"fill":{"field":"k","type":"nominal","legend":null}}},
    {"data":{"name":"box"},"transform":[{"filter":"datum.p == 5"}],"mark":{"type":"tick","orient":"horizontal","size":37,"thickness":2,"color":"#222"},
     "encoding":{"x":{"field":"g","type":"quantitative"},"y":{"field":"med","type":"quantitative"}}},
    {"data":{"name":"pts"},"transform":[{"filter":"datum.p == 5"}],"mark":{"type":"circle","size":18,"color":"#000","opacity":1},
     "encoding":{"x":{"field":"jx","type":"quantitative"},"y":{"field":"v","type":"quantitative"}}},
    {"data":{"name":"box"},"transform":[{"filter":"datum.p == 5"}],"mark":{"type":"circle","size":26,"color":"#ffff00","opacity":1},
     "encoding":{"x":{"field":"g","type":"quantitative"},"y":{"field":"mean","type":"quantitative"}}},
    {"data":{"name":"lab"},"transform":[{"filter":"datum.p == 5"}],"mark":{"type":"text","angle":270,"align":"center","baseline":"middle","fontSize":16,"lineHeight":20,"color":"#111"},
     "encoding":{"x":{"field":"lx","type":"quantitative"},"y":{"field":"ly","type":"quantitative"},"text":{"field":"t"}}}
   ]},
  {"width":54,"height":10,"data":{"values":[{"a":1}]},"mark":{"type":"point","opacity":0}},
  {"width":111,"height":158,"view":{"stroke":"#8a8a8a","strokeWidth":1.2},
   "layer":[
    {"data":{"name":"box"},"transform":[{"filter":"datum.p == 6"}],"mark":{"type":"rule","color":"#7a7a7a","strokeWidth":1.5},
     "encoding":{"x":{"field":"g","type":"quantitative","scale":{"domain":[0.37,2.64],"nice":false,"zero":false},"axis":{"values":[1,2],"labels":false,"ticks":true,"tickSize":4,"tickColor":"#444","grid":true,"gridColor":"#e6e6e6","domain":false,"title":null}},
      "y":{"field":"lo","type":"quantitative","scale":{"domain":[-1.027,1.137],"nice":false,"zero":false},"axis":{"values":[-1,-0.5,0,0.5,1],"tickCount":12,"labelExpr":"datum.value == 0 ? '0' : replace(format(datum.value, '.1f'), '−', '-')","labelFontSize":14,"labelColor":"#333","labelPadding":2,"tickSize":4,"tickColor":"#444","grid":true,"gridColor":"#e6e6e6","domain":false,"labelFlush":false,"labelOverlap":false,"title":null}},
      "y2":{"field":"hi"}}},
    {"data":{"name":"box"},"transform":[{"filter":"datum.p == 6"}],"mark":{"type":"bar","width":37,"stroke":"#333","strokeWidth":0.8},
     "encoding":{"x":{"field":"g","type":"quantitative"},"y":{"field":"q1","type":"quantitative"},"y2":{"field":"q3"},"fill":{"field":"k","type":"nominal","legend":null}}},
    {"data":{"name":"box"},"transform":[{"filter":"datum.p == 6"}],"mark":{"type":"tick","orient":"horizontal","size":37,"thickness":2,"color":"#222"},
     "encoding":{"x":{"field":"g","type":"quantitative"},"y":{"field":"med","type":"quantitative"}}},
    {"data":{"name":"pts"},"transform":[{"filter":"datum.p == 6"}],"mark":{"type":"circle","size":18,"color":"#000","opacity":1},
     "encoding":{"x":{"field":"jx","type":"quantitative"},"y":{"field":"v","type":"quantitative"}}},
    {"data":{"name":"box"},"transform":[{"filter":"datum.p == 6"}],"mark":{"type":"circle","size":26,"color":"#ffff00","opacity":1},
     "encoding":{"x":{"field":"g","type":"quantitative"},"y":{"field":"mean","type":"quantitative"}}},
    {"data":{"name":"lab"},"transform":[{"filter":"datum.p == 6"}],"mark":{"type":"text","angle":270,"align":"center","baseline":"middle","fontSize":16,"lineHeight":20,"color":"#111"},
     "encoding":{"x":{"field":"lx","type":"quantitative"},"y":{"field":"ly","type":"quantitative"},"text":{"field":"t"}}}
   ]},
  {"width":53,"height":10,"data":{"values":[{"a":1}]},"mark":{"type":"point","opacity":0}},
  {"width":108,"height":158,"view":{"stroke":"#8a8a8a","strokeWidth":1.2},
   "layer":[
    {"data":{"name":"box"},"transform":[{"filter":"datum.p == 7"}],"mark":{"type":"rule","color":"#7a7a7a","strokeWidth":1.5},
     "encoding":{"x":{"field":"g","type":"quantitative","scale":{"domain":[0.41,2.61],"nice":false,"zero":false},"axis":{"values":[1,2],"labels":false,"ticks":true,"tickSize":4,"tickColor":"#444","grid":true,"gridColor":"#e6e6e6","domain":false,"title":null}},
      "y":{"field":"lo","type":"quantitative","scale":{"domain":[-0.763,0.83],"nice":false,"zero":false},"axis":{"values":[-0.4,0,0.4,0.8],"tickCount":12,"labelExpr":"replace(format(datum.value, '.1f'), '−', '-')","labelFontSize":14,"labelColor":"#333","labelPadding":2,"tickSize":4,"tickColor":"#444","grid":true,"gridColor":"#e6e6e6","domain":false,"labelFlush":false,"labelOverlap":false,"title":null}},
      "y2":{"field":"hi"}}},
    {"data":{"name":"box"},"transform":[{"filter":"datum.p == 7"}],"mark":{"type":"bar","width":37,"stroke":"#333","strokeWidth":0.8},
     "encoding":{"x":{"field":"g","type":"quantitative"},"y":{"field":"q1","type":"quantitative"},"y2":{"field":"q3"},"fill":{"field":"k","type":"nominal","legend":null}}},
    {"data":{"name":"box"},"transform":[{"filter":"datum.p == 7"}],"mark":{"type":"tick","orient":"horizontal","size":37,"thickness":2,"color":"#222"},
     "encoding":{"x":{"field":"g","type":"quantitative"},"y":{"field":"med","type":"quantitative"}}},
    {"data":{"name":"pts"},"transform":[{"filter":"datum.p == 7"}],"mark":{"type":"circle","size":18,"color":"#000","opacity":1},
     "encoding":{"x":{"field":"jx","type":"quantitative"},"y":{"field":"v","type":"quantitative"}}},
    {"data":{"name":"box"},"transform":[{"filter":"datum.p == 7"}],"mark":{"type":"circle","size":26,"color":"#ffff00","opacity":1},
     "encoding":{"x":{"field":"g","type":"quantitative"},"y":{"field":"mean","type":"quantitative"}}},
    {"data":{"name":"lab"},"transform":[{"filter":"datum.p == 7"}],"mark":{"type":"text","angle":270,"align":"center","baseline":"middle","fontSize":16,"lineHeight":20,"color":"#111"},
     "encoding":{"x":{"field":"lx","type":"quantitative"},"y":{"field":"ly","type":"quantitative"},"text":{"field":"t"}}}
   ]},
  {"width":55,"height":10,"data":{"values":[{"a":1}]},"mark":{"type":"point","opacity":0}},
  {"width":109,"height":158,"view":{"stroke":"#8a8a8a","strokeWidth":1.2},
   "layer":[
    {"data":{"name":"box"},"transform":[{"filter":"datum.p == 8"}],"mark":{"type":"rule","color":"#7a7a7a","strokeWidth":1.5},
     "encoding":{"x":{"field":"g","type":"quantitative","scale":{"domain":[0.41,2.59],"nice":false,"zero":false},"axis":{"values":[1,2],"labels":false,"ticks":true,"tickSize":4,"tickColor":"#444","grid":true,"gridColor":"#e6e6e6","domain":false,"title":null}},
      "y":{"field":"lo","type":"quantitative","scale":{"domain":[-1.006,1.024],"nice":false,"zero":false},"axis":{"values":[-1,-0.5,0,0.5,1],"tickCount":12,"labelExpr":"replace(format(datum.value, '.1f'), '−', '-')","labelFontSize":14,"labelColor":"#333","labelPadding":2,"tickSize":4,"tickColor":"#444","grid":true,"gridColor":"#e6e6e6","domain":false,"labelFlush":false,"labelOverlap":false,"title":null}},
      "y2":{"field":"hi"}}},
    {"data":{"name":"box"},"transform":[{"filter":"datum.p == 8"}],"mark":{"type":"bar","width":37,"stroke":"#333","strokeWidth":0.8},
     "encoding":{"x":{"field":"g","type":"quantitative"},"y":{"field":"q1","type":"quantitative"},"y2":{"field":"q3"},"fill":{"field":"k","type":"nominal","legend":null}}},
    {"data":{"name":"box"},"transform":[{"filter":"datum.p == 8"}],"mark":{"type":"tick","orient":"horizontal","size":37,"thickness":2,"color":"#222"},
     "encoding":{"x":{"field":"g","type":"quantitative"},"y":{"field":"med","type":"quantitative"}}},
    {"data":{"name":"pts"},"transform":[{"filter":"datum.p == 8"}],"mark":{"type":"circle","size":18,"color":"#000","opacity":1},
     "encoding":{"x":{"field":"jx","type":"quantitative"},"y":{"field":"v","type":"quantitative"}}},
    {"data":{"name":"box"},"transform":[{"filter":"datum.p == 8"}],"mark":{"type":"circle","size":26,"color":"#ffff00","opacity":1},
     "encoding":{"x":{"field":"g","type":"quantitative"},"y":{"field":"mean","type":"quantitative"}}},
    {"data":{"name":"lab"},"transform":[{"filter":"datum.p == 8"}],"mark":{"type":"text","angle":270,"align":"center","baseline":"middle","fontSize":16,"lineHeight":20,"color":"#111"},
     "encoding":{"x":{"field":"lx","type":"quantitative"},"y":{"field":"ly","type":"quantitative"},"text":{"field":"t"}}}
   ]}
 ],"spacing":0,"bounds":"flush"}
],"spacing":32}
]
}
